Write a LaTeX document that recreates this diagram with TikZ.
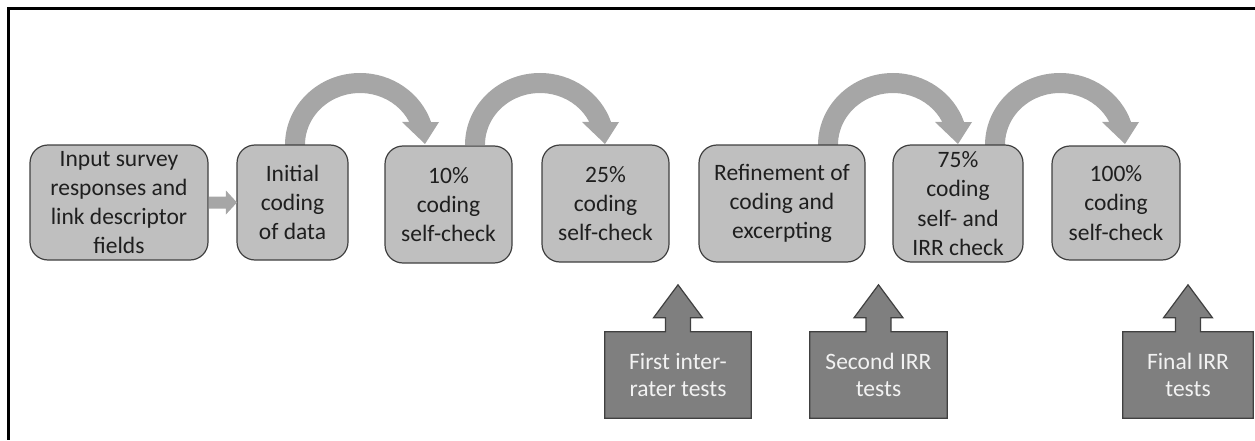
\documentclass[tikz,border=0pt]{standalone}
\usepackage{fontspec}
\setmainfont{Carlito}
\usetikzlibrary{calc,backgrounds}
\definecolor{boxfill}{HTML}{BFBFBF}
\definecolor{boxline}{HTML}{404040}
\definecolor{arrowfill}{HTML}{A6A6A6}
\definecolor{testfill}{HTML}{7F7F7F}
\definecolor{testtext}{HTML}{F2F2F2}
\tikzset{
  stage/.style={draw=boxline, line width=1.2pt, fill=boxfill, rounded corners=18pt,
    align=center, inner sep=0pt, text=black!88,
    font=\fontsize{23.5}{29.3}\selectfont},
  testlabel/.style={align=center, inner sep=0pt, text=testtext, minimum height=86pt,
    font=\fontsize{23.5}{27.5}\selectfont},
  callout/.style={draw=boxline, line width=1.2pt, fill=testfill},
  % thick curved arrow that leaves one stage and lands on the next
  turnarrow/.pic={
    \fill[arrowfill] (-75,0) arc[start angle=180, end angle=18.6, x radius=75, y radius=72]
      -- (79,23) -- (65,1) -- (42,23) -- (49.3,23)
      arc[start angle=26.25, end angle=180, x radius=55, y radius=52] -- cycle;
  }
}
\begin{document}
\begin{tikzpicture}[x=1pt,y=1pt]
\useasboundingbox (0,0) rectangle (1255,440);

% frame
\draw[line width=2.2pt] (1255,431.5) -- (8.5,431.5) -- (8.5,0);

% curved arrows between stages
\coordinate (turnA) at (360,295);
\coordinate (turnB) at (540,295);
\coordinate (turnC) at (893,295);
\coordinate (turnD) at (1060,295);
\pic at (turnA) {turnarrow};
\pic at (turnB) {turnarrow};
\pic at (turnC) {turnarrow};
\pic at (turnD) {turnarrow};

% stages
\node[stage, minimum width=178pt, minimum height=115pt] (input) at (119,237.5)
  {Input survey\\responses and\\link descriptor\\fields};
\node[stage, minimum width=111pt, minimum height=115pt] (initial) at (292.5,237.5)
  {Initial\\coding\\of data};
\node[stage, minimum width=127pt, minimum height=117pt] (ten) at (448.5,235.5)
  {10\%\\coding\\self-check};
\node[stage, minimum width=127pt, minimum height=117pt] (quarter) at (605.5,236.5)
  {25\%\\coding\\self-check};
\node[stage, minimum width=166pt, minimum height=117pt] (refine) at (782,236.5)
  {Refinement of\\coding and\\excerpting};
\node[stage, minimum width=130pt, minimum height=117pt] (threeq) at (958,236.5)
  {75\%\\coding\\self- and\\IRR check};
\node[stage, minimum width=128pt, minimum height=114pt] (full) at (1116,237)
  {100\%\\coding\\self-check};

% short block arrow from the input stage to the initial coding
\fill[arrowfill] ($(input.east)+(0.6,6)$) -- ($(initial.west)+(-10.5,6)$)
  -- ($(initial.west)+(-10.5,12)$) -- ($(initial.west)+(0.6,0)$)
  -- ($(initial.west)+(-10.5,-12)$) -- ($(initial.west)+(-10.5,-6)$)
  -- ($(input.east)+(0.6,-6)$) -- cycle;

% inter-rater test callouts
\node[testlabel, minimum width=146pt] (first) at (678,65) {First inter-\\rater tests};
\node[testlabel, minimum width=137pt] (second) at (878.5,65) {Second IRR\\tests};
\node[testlabel, minimum width=130pt] (final) at (1188,65) {Final IRR\\tests};

\begin{scope}[on background layer]
\foreach \t in {first,second,final}{
  \path[callout] (\t.south west) -- (\t.north west)
    -- ($(\t.north)+(-12.5,0)$) -- ($(\t.north)+(-12.5,14)$)
    -- ($(\t.north)+(-24.5,14)$) -- ($(\t.north)+(0,47)$)
    -- ($(\t.north)+(24.5,14)$) -- ($(\t.north)+(12.5,14)$)
    -- ($(\t.north)+(12.5,0)$) -- (\t.north east) -- (\t.south east) -- cycle;
}
\end{scope}
\end{tikzpicture}
\end{document}
